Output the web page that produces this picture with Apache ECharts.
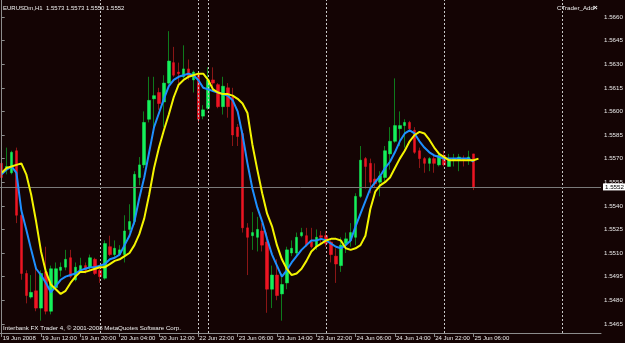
<!DOCTYPE html>
<html><head><meta charset="utf-8">
<script src="https://cdn.jsdelivr.net/npm/echarts@6/dist/echarts.min.js"></script>
<style>html,body{margin:0;padding:0;background:#140404;}#c{width:625px;height:343px;}</style>
</head><body><div id="c"></div>
<script>
// sessions: [day, first hour, last hour] (H1 bars, incl. empty future slots)
const sessions = [['19 Jun',4,23],['20 Jun',0,19],['22 Jun',22,23],['23 Jun',0,23],['24 Jun',0,23],['25 Jun',0,23],['26 Jun',0,8]];
const categories = [];
sessions.forEach(s => { for (let h = s[1]; h <= s[2]; h++) categories.push(s[0] + ' ' + String(h).padStart(2, '0') + ':00'); });

const open = [1.5567,1.5563,1.5561,1.5575,1.5534,1.5497,1.5482,1.5486,1.5475,1.5498,
1.5473,1.5488,1.5499,1.5501,1.5507,1.5493,1.5499,1.5502,1.5501,1.5506,
1.5499,1.5494,1.5514,1.5509,1.5509,1.5509,1.5525,1.5530,1.5558,1.5566,
1.5595,1.5608,1.5612,1.5606,1.5618,1.5631,1.5625,1.5622,1.5627,1.5620,
1.5624,1.5597,1.5602,1.5620,1.5617,1.5603,1.5615,1.5609,1.5590,1.5586,
1.5526,1.5521,1.5520,1.5524,1.5517,1.5487,1.5496,1.5484,1.5491,1.5510,
1.5510,1.5521,1.5521,1.5517,1.5514,1.5521,1.5521,1.5517,1.5508,1.5502,
1.5516,1.5518,1.5520,1.5546,1.5570,1.5567,1.5557,1.5555,1.5558,1.5573,
1.5581,1.5589,1.5591,1.5593,1.5588,1.5575,1.5570,1.5567,1.5570,1.5566,
1.5572,1.5565,1.5569,1.5569,1.5570,1.5569,1.5573];
const close = [1.5558,1.5565,1.5574,1.5534,1.5497,1.5483,1.5485,1.5475,1.5497,1.5473,
1.5500,1.5500,1.5501,1.5506,1.5495,1.5501,1.5502,1.5499,1.5507,1.5497,
1.5495,1.5516,1.5509,1.5513,1.5512,1.5524,1.5530,1.5560,1.5566,1.5593,
1.5607,1.5610,1.5605,1.5618,1.5632,1.5623,1.5624,1.5627,1.5622,1.5625,
1.5595,1.5601,1.5620,1.5618,1.5603,1.5616,1.5603,1.5585,1.5584,1.5526,
1.5520,1.5523,1.5525,1.5515,1.5487,1.5496,1.5483,1.5490,1.5512,1.5513,
1.5520,1.5523,1.5515,1.5514,1.5520,1.5520,1.5516,1.5509,1.5503,1.5515,
1.5519,1.5523,1.5546,1.5569,1.5565,1.5555,1.5554,1.5559,1.5575,1.5581,
1.5591,1.5591,1.5593,1.5589,1.5574,1.5570,1.5567,1.5570,1.5567,1.5572,
1.5566,1.5570,1.5570,1.5571,1.5569,1.5571,1.5552];
const high = [1.5569,1.5577,1.5575,1.5577,1.5536,1.5499,1.5496,1.5500,1.5499,1.5514,
1.5502,1.5504,1.5504,1.5512,1.5512,1.5504,1.5507,1.5504,1.5509,1.5507,
1.5500,1.5518,1.5521,1.5518,1.5515,1.5534,1.5541,1.5562,1.5571,1.5600,
1.5622,1.5622,1.5615,1.5623,1.5651,1.5641,1.5631,1.5642,1.5633,1.5626,
1.5625,1.5604,1.5628,1.5628,1.5618,1.5622,1.5618,1.5615,1.5592,1.5588,
1.5529,1.5536,1.5533,1.5529,1.5523,1.5502,1.5506,1.5497,1.5514,1.5518,
1.5523,1.5526,1.5526,1.5526,1.5525,1.5524,1.5524,1.5518,1.5513,1.5520,
1.5523,1.5529,1.5548,1.5578,1.5571,1.5570,1.5567,1.5562,1.5578,1.5590,
1.5621,1.5600,1.5595,1.5594,1.5590,1.5577,1.5571,1.5571,1.5573,1.5574,
1.5575,1.5573,1.5573,1.5573,1.5572,1.5575,1.5573];
const low = [1.5556,1.5560,1.5560,1.5529,1.5493,1.5478,1.5481,1.5473,1.5467,1.5471,
1.5471,1.5487,1.5495,1.5499,1.5494,1.5492,1.5498,1.5497,1.5499,1.5496,
1.5491,1.5493,1.5508,1.5507,1.5508,1.5504,1.5523,1.5528,1.5553,1.5564,
1.5593,1.5590,1.5601,1.5590,1.5617,1.5622,1.5618,1.5621,1.5620,1.5612,
1.5593,1.5595,1.5601,1.5613,1.5602,1.5598,1.5596,1.5578,1.5578,1.5523,
1.5496,1.5512,1.5511,1.5511,1.5472,1.5475,1.5480,1.5467,1.5487,1.5508,
1.5508,1.5520,1.5514,1.5513,1.5512,1.5515,1.5514,1.5504,1.5491,1.5498,
1.5510,1.5514,1.5515,1.5545,1.5551,1.5548,1.5552,1.5546,1.5555,1.5563,
1.5580,1.5578,1.5577,1.5587,1.5573,1.5564,1.5561,1.5562,1.5561,1.5565,
1.5565,1.5565,1.5565,1.5562,1.5565,1.5566,1.5550];
const maBlue = [1.5560,1.5563,1.5565,1.5561,1.5537,1.5525,1.5512,1.5500,1.5496,1.5491,
1.5485,1.5489,1.5493,1.5495,1.5496,1.5497,1.5499,1.5500,1.5501,1.5501,
1.5502,1.5503,1.5506,1.5507,1.5509,1.5515,1.5521,1.5530,1.5545,1.5558,
1.5574,1.5590,1.5599,1.5608,1.5616,1.5620,1.5622,1.5623,1.5624,1.5623,
1.5620,1.5615,1.5614,1.5613,1.5612,1.5611,1.5610,1.5607,1.5600,1.5585,
1.5567,1.5551,1.5539,1.5530,1.5519,1.5509,1.5502,1.5495,1.5499,1.5504,
1.5508,1.5512,1.5515,1.5518,1.5518,1.5519,1.5518,1.5516,1.5514,1.5513,
1.5515,1.5518,1.5527,1.5535,1.5543,1.5551,1.5555,1.5559,1.5564,1.5568,
1.5574,1.5581,1.5586,1.5588,1.5586,1.5581,1.5577,1.5574,1.5572,1.5571,
1.5570,1.5570,1.5570,1.5570,1.5570,1.5570,1.5568];
const maYellow = [1.5561,1.5564,1.5565,1.5566,1.5567,1.5560,1.5547,1.5530,1.5511,1.5498,
1.5490,1.5487,1.5484,1.5486,1.5491,1.5495,1.5498,1.5498,1.5499,1.5500,
1.5501,1.5501,1.5503,1.5505,1.5506,1.5508,1.5510,1.5515,1.5522,1.5532,
1.5547,1.5564,1.5577,1.5588,1.5598,1.5609,1.5617,1.5620,1.5622,1.5623,
1.5624,1.5624,1.5620,1.5614,1.5612,1.5611,1.5611,1.5610,1.5608,1.5605,
1.5599,1.5579,1.5563,1.5548,1.5535,1.5527,1.5515,1.5506,1.5500,1.5496,
1.5497,1.5500,1.5505,1.5511,1.5514,1.5516,1.5518,1.5519,1.5519,1.5518,
1.5513,1.5512,1.5513,1.5515,1.5521,1.5538,1.5549,1.5553,1.5555,1.5558,
1.5564,1.5570,1.5575,1.5581,1.5585,1.5587,1.5586,1.5582,1.5577,1.5573,
1.5571,1.5569,1.5569,1.5569,1.5569,1.5569,1.5569,1.5570];

const timeTicks = [['19 Jun 04:00','19 Jun 2008'],['19 Jun 12:00','19 Jun 12:00'],['19 Jun 20:00','19 Jun 20:00'],
['20 Jun 04:00','20 Jun 04:00'],['20 Jun 12:00','20 Jun 12:00'],['22 Jun 22:00','22 Jun 22:00'],['23 Jun 06:00','23 Jun 06:00'],
['23 Jun 14:00','23 Jun 14:00'],['23 Jun 22:00','23 Jun 22:00'],['24 Jun 06:00','24 Jun 06:00'],['24 Jun 14:00','24 Jun 14:00'],
['24 Jun 22:00','24 Jun 22:00'],['25 Jun 06:00','25 Jun 06:00']];
const priceTicks = [1.5465,1.5480,1.5495,1.5510,1.5525,1.5540,1.5555,1.5570,1.5585,1.5600,1.5615,1.5630,1.5645,1.5660];
const separators = ['20 Jun 00:00','22 Jun 22:00','23 Jun 00:00','24 Jun 00:00','25 Jun 00:00','26 Jun 00:00'];
const symbolTitle = 'EURUSDm,H1';
const indicatorName = 'CTrader_Add';
const copyright = 'Interbank FX Trader 4, \u00a9 2001-2008 MetaQuotes Software Corp.';

const FONT = "'Liberation Sans',Arial,sans-serif";
const last = open.length - 1;
const lastPrice = close[last];
const tickIdx = timeTicks.map(t => categories.indexOf(t[0]));
const tickText = {}; timeTicks.forEach((t, k) => { tickText[tickIdx[k]] = t[1]; });

const wickData = open.map((o, i) => [i, o, close[i], low[i], high[i]]);
const bodyData = open.map((o, i) => [i, o, close[i], Math.min(o, close[i]), Math.max(o, close[i])]);

const chart = echarts.init(document.getElementById('c'), null, {renderer: 'canvas', devicePixelRatio: 1});
chart.setOption({
  animation: false,
  backgroundColor: '#140404',
  grid: {left: 0, right: 24, top: 0, bottom: 10, outerBoundsMode: 'none', containLabel: false},
  xAxis: {
    type: 'value', min: -0.346, max: 121.93,
    splitLine: {show: false},
    axisLine: {show: true, onZero: false, lineStyle: {color: '#8c8c8c', width: 1}},
    axisTick: {show: true, customValues: tickIdx, length: 4, lineStyle: {color: '#8c8c8c'}},
    axisLabel: {customValues: tickIdx, formatter: v => tickText[Math.round(v)] || '', align: 'left', margin: 2,
      padding: [0, 0, 0, 1], color: '#e8e8e8', fontSize: 6, fontFamily: FONT}
  },
  yAxis: {
    type: 'value', position: 'right', min: 1.545917, max: 1.56708, scale: true,
    splitLine: {show: false},
    axisLine: {show: true, lineStyle: {color: '#8c8c8c', width: 1}},
    axisTick: {show: true, customValues: priceTicks, length: 3, lineStyle: {color: '#8c8c8c'}},
    axisLabel: {customValues: priceTicks, formatter: v => v.toFixed(4), margin: 3, color: '#e8e8e8', fontSize: 6.2, fontFamily: FONT}
  },
  series: [
    {
      type: 'candlestick', name: 'wick', data: wickData, barWidth: 1,
      itemStyle: {color: '#0e7a1c', color0: '#8a1616', borderColor: '#0e7a1c', borderColor0: '#8a1616', borderWidth: 1},
      markLine: {
        silent: true, symbol: 'none', animation: false,
        data: separators.map(c => ({xAxis: categories.indexOf(c)})),
        lineStyle: {type: [2, 2], color: '#c8c8c8', width: 1},
        label: {show: false}
      }
    },
    {
      type: 'candlestick', name: 'body', data: bodyData, barWidth: 3,
      itemStyle: {color: '#14f05a', color0: '#ec1422', borderColor: '#14f05a', borderColor0: '#ec1422', borderWidth: 0.5}
    },
    {type: 'line', name: 'MA fast', data: maBlue.map((v, i) => [i, v]), showSymbol: false, smooth: false,
      lineStyle: {color: '#1e8fff', width: 2}, z: 5,
      markLine: {
        silent: true, symbol: 'none', animation: false, precision: 4,
        data: [{yAxis: lastPrice}],
        lineStyle: {type: 'solid', color: '#7a7a7a', width: 1},
        label: {show: true, position: 'end', distance: 2, formatter: () => lastPrice.toFixed(4),
          color: '#000', backgroundColor: '#ffffff', padding: [1, 2, 0, 2], fontSize: 6.2, fontFamily: FONT}
      }},
    {type: 'line', name: 'MA slow', data: maYellow.map((v, i) => [i, v]), showSymbol: false, smooth: false,
      lineStyle: {color: '#f4f400', width: 2}, z: 6}
  ],
  graphic: [
    {type: 'text', left: 3, top: 5, z: 100, style: {text: symbolTitle + '  ' + [open[last], high[last], low[last], close[last]].map(v => v.toFixed(4)).join(' '), fill: '#f0f0f0', fontSize: 6, fontFamily: FONT}},
    {type: 'text', left: 557, top: 5, z: 100, style: {text: indicatorName, fill: '#f0f0f0', fontSize: 6.2, fontFamily: FONT}},
    {type: 'text', left: 593, top: 4, z: 100, style: {text: '\u00d7', fill: '#f0f0f0', fontSize: 8, fontWeight: 'bold', fontFamily: FONT}},
    {type: 'text', left: 3, top: 325, z: 100, style: {text: copyright, fill: '#f0f0f0', fontSize: 6.2, fontFamily: FONT}},
    {type: 'line', z: 100, shape: {x1: 1.5, y1: 0, x2: 1.5, y2: 333}, style: {stroke: '#8c8c8c', lineWidth: 1}}
  ]
});
</script></body></html>
